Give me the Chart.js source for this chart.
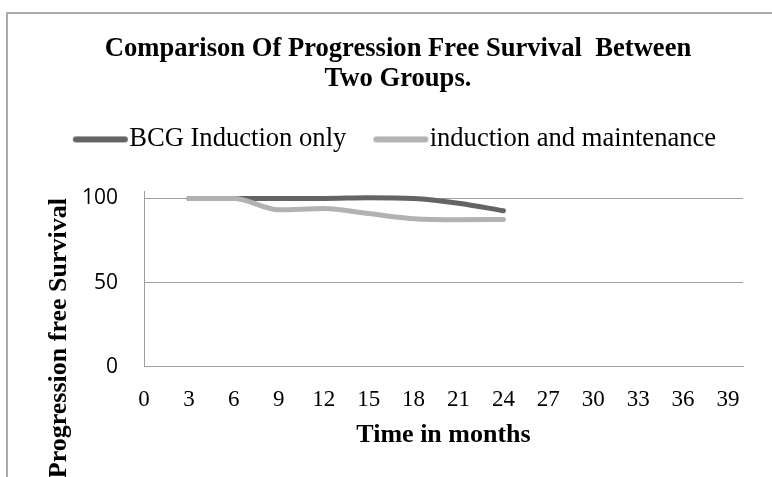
<!DOCTYPE html>
<html>
<head>
<meta charset="utf-8">
<script src="https://cdn.jsdelivr.net/npm/chart.js@4"></script>
<style>
  html, body { margin: 0; padding: 0; background: #fff; }
  #wrap { position: relative; width: 772px; height: 477px; overflow: hidden; }
  #frame { position: absolute; left: 6px; top: 12px; width: 900px; height: 600px;
           border-left: 2px solid #ababab; border-top: 2px solid #ababab; }
  #c { position: absolute; left: 0; top: 0; }
</style>
</head>
<body>
<div id="wrap">
  <div id="frame"></div>
  <canvas id="c" width="772" height="477"></canvas>
</div>
<script>
// ---- data ----
const months = [3, 6, 9, 12, 15, 18, 21, 24];
const bcgInductionOnly = [100, 100, 100, 100, 100.4, 100, 97.2, 92.7];
const inductionMaintenance = [100, 100, 93.3, 94, 91, 88, 87.4, 87.5];
const seriesNames = ['BCG Induction only', 'induction and maintenance'];
const xTickValues = [0, 3, 6, 9, 12, 15, 18, 21, 24, 27, 30, 33, 36, 39];
const yTickValues = [0, 50, 100];
const titleLines = ['Comparison Of Progression Free Survival  Between', 'Two Groups.'];
const xAxisTitle = 'Time in months';
const yAxisTitle = 'Progression free Survival';

const darkColor = '#646464';
const lightColor = '#b2b2b2';

function legendLine(color) {
  const cv = document.createElement('canvas');
  cv.width = 62; cv.height = 8;
  const g = cv.getContext('2d');
  g.strokeStyle = color; g.lineWidth = 6; g.lineCap = 'round';
  g.beginPath(); g.moveTo(9, 4); g.lineTo(58, 4); g.stroke();
  return cv;
}

const yTitlePlugin = {
  id: 'yTitle',
  afterDraw(chart) {
    const ctx = chart.ctx;
    ctx.save();
    ctx.translate(66, 198);
    ctx.rotate(-Math.PI / 2);
    ctx.font = 'bold 26px "Liberation Serif"';
    ctx.fillStyle = '#000';
    ctx.textAlign = 'right';
    ctx.textBaseline = 'alphabetic';
    ctx.fillText(yAxisTitle, 0, 0);
    ctx.restore();
  }
};

// empty layout boxes: a gap between legend and plot, and a right margin for the plot only
const spacerPlugin = {
  id: 'layoutSpacers',
  beforeInit(chart) {
    Chart.layouts.addBox(chart, {
      position: 'top', weight: 500, fullSize: true, options: {},
      left: 0, top: 0, right: 0, bottom: 0, width: 0, height: 0,
      update(maxWidth) { this.width = maxWidth; this.height = 29; },
      isHorizontal() { return true; },
      getPadding() { return { top: 0, left: 0, right: 0, bottom: 0 }; },
      draw() {}
    });
    Chart.layouts.addBox(chart, {
      position: 'right', weight: 500, fullSize: false, options: {},
      left: 0, top: 0, right: 0, bottom: 0, width: 0, height: 0,
      update(maxWidth, maxHeight) { this.width = 13; this.height = maxHeight; },
      isHorizontal() { return false; },
      getPadding() { return { top: 0, left: 0, right: 0, bottom: 0 }; },
      draw() {}
    });
  }
};

new Chart(document.getElementById('c'), {
  type: 'line',
  data: {
    datasets: [
      {
        label: seriesNames[0],
        data: months.map((m, i) => ({ x: m, y: bcgInductionOnly[i] })),
        borderColor: darkColor, backgroundColor: darkColor,
        borderWidth: 5, cubicInterpolationMode: 'monotone', pointRadius: 0,
        borderCapStyle: 'round', borderJoinStyle: 'round',
        pointStyle: legendLine(darkColor),
        order: 1
      },
      {
        label: seriesNames[1],
        data: months.map((m, i) => ({ x: m, y: inductionMaintenance[i] })),
        borderColor: lightColor, backgroundColor: lightColor,
        borderWidth: 5, cubicInterpolationMode: 'monotone', pointRadius: 0,
        borderCapStyle: 'round', borderJoinStyle: 'round',
        pointStyle: legendLine(lightColor),
        order: 0
      }
    ]
  },
  options: {
    responsive: false,
    animation: false,
    layout: { padding: { left: 40, right: 16, top: 0, bottom: 22 } },
    plugins: {
      tooltip: { enabled: false },
      title: {
        display: true,
        text: titleLines,
        color: '#000',
        font: { family: '"Liberation Serif"', size: 26.6, weight: 'bold', lineHeight: 1.13 },
        padding: { top: 34, bottom: -2 }
      },
      legend: {
        display: true,
        labels: {
          usePointStyle: true,
          pointStyleWidth: 36,
          padding: 34,
          color: '#000',
          font: { family: '"Liberation Serif"', size: 26.6 },
          sort: (a, b) => a.datasetIndex - b.datasetIndex
        }
      }
    },
    scales: {
      x: {
        type: 'linear',
        min: 0, max: 40,
        afterBuildTicks: (scale) => { scale.ticks = xTickValues.map(v => ({ value: v })); },
        grid: { display: false, drawTicks: false },
        border: { display: true, color: '#a0a0a0', width: 1 },
        ticks: {
          padding: 19, maxRotation: 0, autoSkip: false,
          color: '#000', font: { family: '"Liberation Serif"', size: 23 }
        },
        title: {
          display: true, text: xAxisTitle, color: '#000',
          font: { family: '"Liberation Serif"', size: 26, weight: 'bold' },
          padding: { top: -12.6, bottom: 4 }
        }
      },
      y: {
        min: 0, max: 104,
        afterBuildTicks: (scale) => { scale.ticks = yTickValues.map(v => ({ value: v })); },
        afterFit: (scale) => { scale.width = 104; },
        grid: { color: '#a0a0a0', lineWidth: 1, drawTicks: false },
        border: { display: true, color: '#a0a0a0', width: 1 },
        ticks: {
          padding: 26,
          color: '#000', font: { family: '"Open Sans"', size: 21 }
        }
      }
    }
  },
  plugins: [yTitlePlugin, spacerPlugin]
});
</script>
</body>
</html>
